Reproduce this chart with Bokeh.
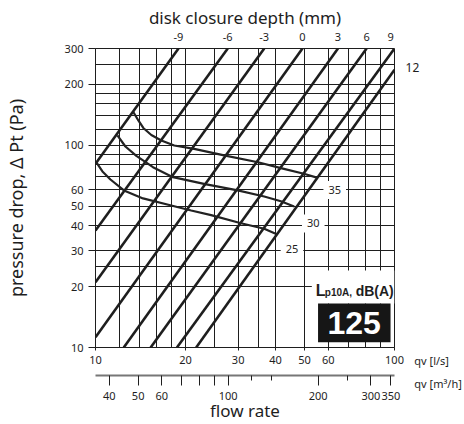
from bokeh.plotting import figure
from bokeh.models import (LogAxis, FixedTicker, Range1d, LogScale, Label,
                          BoxAnnotation)
from bokeh.embed import file_html
from bokeh.resources import INLINE

FONT = "Noto Sans"
INK = "#1e1e1e"

# ---------------- data ----------------
qv_ls_ticks = [10, 20, 30, 40, 50, 60, 100]
qv_m3h_ticks = [40, 50, 60, 70, 80, 90, 100, 200, 300, 350]
qv_m3h_labels = ["40", "50", "60", "", "", "", "100", "200", "300", "350"]
qv_m3h_minor = [120, 140, 250]
dp_ticks = [10, 20, 30, 40, 50, 60, 100, 200, 300]
vgrid_ls = [10, 12, 14, 16, 18, 20, 25, 30, 35, 40, 50, 60, 70, 80, 90, 100]
hgrid_pa = [10, 20, 25, 30, 40, 50, 60, 70, 80, 90, 100, 120, 140, 160, 180,
            200, 250, 300]

# disk closure depth lines (mm): start and end points (qv l/s, dp Pa)
depth_mm = [-9, -6, -3, 0, 3, 6, 9, 12]
line_q0 = [10, 10, 10, 10, 12.43, 15.29, 18.72, 21.71]
line_p0 = [80.8, 37.8, 21.0, 11.24, 10, 10, 10, 10]
line_q1 = [18.95, 27.69, 36.67, 49.22, 64.71, 80.66, 100, 100]
line_p1 = [300, 300, 300, 300, 300, 300, 300, 235.5]
depth_label_q = [18.95, 27.69, 36.67, 49.22, 64.71, 80.66, 97.0]
depth12_label_q = 114.8
depth12_label_p = 241.5

# sound level curves Lp10A dB(A)
noise_levels = [35, 30, 25]
n35_q = [13.38, 13.91, 14.45, 15.37, 16.60, 18.34, 21.38, 26.92, 34.95, 41.69, 49.75, 55.38]
n35_p = [145.7, 132.3, 121.5, 112.2, 105.4, 99.5, 95.7, 88.9, 82.3, 76.9, 72.2, 68.9]
n30_q = [11.84, 12.59, 13.70, 15.57, 18.16, 23.26, 29.91, 36.67, 41.69, 46.16]
n30_p = [111.6, 98.4, 88.4, 77.8, 69.4, 64.1, 59.7, 55.7, 52.8, 49.7]
n25_q = [10.08, 10.55, 11.22, 12.45, 14.42, 17.92, 20.89, 24.36, 30.67, 36.67, 40.58]
n25_p = [82.0, 74.1, 67.6, 59.7, 54.5, 50.3, 47.5, 45.1, 41.1, 38.6, 36.2]
noise_label_q = [63.1, 53.5, 45.4]
noise_label_p = [60, 41, 30.7]
size_label = "125"

# ---------------- figure ----------------
p = figure(width=464, height=424, x_axis_type="log", y_axis_type="log",
           x_range=Range1d(10, 100), y_range=Range1d(10, 300),
           x_axis_location=None, y_axis_location=None,
           output_backend="svg", toolbar_location=None,
           min_border_left=94, min_border_right=70,
           min_border_top=48, min_border_bottom=77)
p.background_fill_color = "white"
p.border_fill_color = "white"
p.outline_line_color = INK
p.outline_line_width = 1

p.xgrid.ticker = FixedTicker(ticks=vgrid_ls)
p.ygrid.ticker = FixedTicker(ticks=hgrid_pa)
for g in (p.xgrid, p.ygrid):
    g.grid_line_color = INK
    g.grid_line_width = 1
    g.grid_line_alpha = 1


def style(ax, size="11px"):
    ax.major_label_text_font = FONT
    ax.major_label_text_font_size = size
    ax.major_label_text_color = INK
    ax.axis_label_text_font = FONT
    ax.axis_label_text_font_style = "normal"
    ax.axis_label_text_font_size = "17px"
    ax.axis_label_text_color = INK
    ax.minor_tick_line_color = None
    ax.major_tick_in = 0
    ax.axis_line_color = INK
    ax.major_tick_line_color = INK


# left axis
yax = LogAxis(ticker=FixedTicker(ticks=dp_ticks),
              axis_label="pressure drop, \u0394 Pt (Pa)")
style(yax)
yax.axis_label_text_font_size = "18px"
yax.major_label_overrides = {t: str(t) for t in dp_ticks}
yax.major_tick_out = 7
yax.major_label_standoff = 5
yax.axis_label_standoff = 34
p.add_layout(yax, "left")

# bottom axis l/s
xax = LogAxis(ticker=FixedTicker(ticks=qv_ls_ticks), axis_label=" ")
style(xax)
xax.major_label_overrides = {t: str(t) for t in qv_ls_ticks}
xax.major_tick_out = 3
xax.major_label_standoff = 5
xax.axis_label_text_font_size = "5px"
xax.axis_label_standoff = 0
p.add_layout(xax, "below")

# bottom axis m3/h
p.extra_x_ranges = {"m3h": Range1d(36, 360)}
p.extra_x_scales = {"m3h": LogScale()}
x2 = LogAxis(x_range_name="m3h",
             ticker=FixedTicker(ticks=qv_m3h_ticks, minor_ticks=qv_m3h_minor),
             axis_label="flow rate")
style(x2)
x2.major_label_overrides = dict(zip(qv_m3h_ticks, qv_m3h_labels))
x2.major_tick_out = 10
x2.minor_tick_out = 5
x2.minor_tick_in = 0
x2.minor_tick_line_color = INK
x2.axis_line_color = "#777777"
x2.axis_line_width = 2
x2.major_label_standoff = 6
x2.axis_label_standoff = -4
p.add_layout(x2, "below")

# top axis: disk closure depth
tax = LogAxis(ticker=FixedTicker(ticks=depth_label_q),
              axis_label="disk closure depth (mm)")
style(tax)
tax.major_label_overrides = {q: str(d) for q, d in zip(depth_label_q, depth_mm)}
tax.major_tick_out = 0
tax.major_tick_line_color = None
tax.axis_line_color = None
tax.major_label_standoff = 8
tax.axis_label_standoff = 1
p.add_layout(tax, "above")

# depth lines
p.multi_line(xs=[[a, b] for a, b in zip(line_q0, line_q1)],
             ys=[[a, b] for a, b in zip(line_p0, line_p1)],
             line_color=INK, line_width=2.6)

# sound curves
p.multi_line(xs=[n35_q, n30_q, n25_q], ys=[n35_p, n30_p, n25_p],
             line_color="#222222", line_width=2.2, line_join="round")

for q, pv, lv in zip(noise_label_q, noise_label_p, noise_levels):
    p.add_layout(Label(x=q, y=pv, text=str(lv), text_align="center",
                       text_baseline="middle", text_font=FONT,
                       text_font_size="11px", text_color=INK,
                       background_fill_color="white", padding=5))

# Lp10A legend box and size badge
p.add_layout(BoxAnnotation(left=52.9, bottom=16.5, top=24.0,
                           fill_color="white", fill_alpha=1, line_color=None))
p.add_layout(BoxAnnotation(left=55.5, right=97.0, bottom=10.62, top=16.5,
                           fill_color="#161616", fill_alpha=1, line_color=None))
p.add_layout(Label(x=54.5, y=19.12, text="L", text_font="Liberation Sans",
                   text_font_style="bold", text_font_size="16px",
                   text_color=INK, text_baseline="alphabetic"))
p.add_layout(Label(x=58.45, y=18.69, text="p10A,", text_font="Liberation Sans",
                   text_font_style="bold", text_font_size="10px",
                   text_color=INK, text_baseline="alphabetic"))
p.add_layout(Label(x=74.13, y=19.12, text="dB(A)", text_font="Liberation Sans",
                   text_font_style="bold", text_font_size="14px",
                   text_color=INK, text_baseline="alphabetic"))
p.add_layout(Label(x=73.3, y=13.21, text=size_label, text_font="Liberation Sans",
                   text_font_style="bold", text_font_size="32px",
                   text_color="white", text_align="center",
                   text_baseline="middle"))

# texts outside the frame: placed in the right side panel (not clipped)
p.add_layout(Label(x=depth12_label_q, y=depth12_label_p, text=str(depth_mm[-1]),
                   text_font=FONT, text_font_size="12px", text_color=INK,
                   text_align="center", text_baseline="middle"), "right")
p.add_layout(Label(x=116.5, y=7.57, text="qv [l/s]\nqv [m\u00b3/h]",
                   text_font=FONT, text_font_size="11px", text_color=INK,
                   text_align="left", text_baseline="middle",
                   text_line_height=1.55), "right")

open("out.html", "w").write(file_html(p, INLINE))
